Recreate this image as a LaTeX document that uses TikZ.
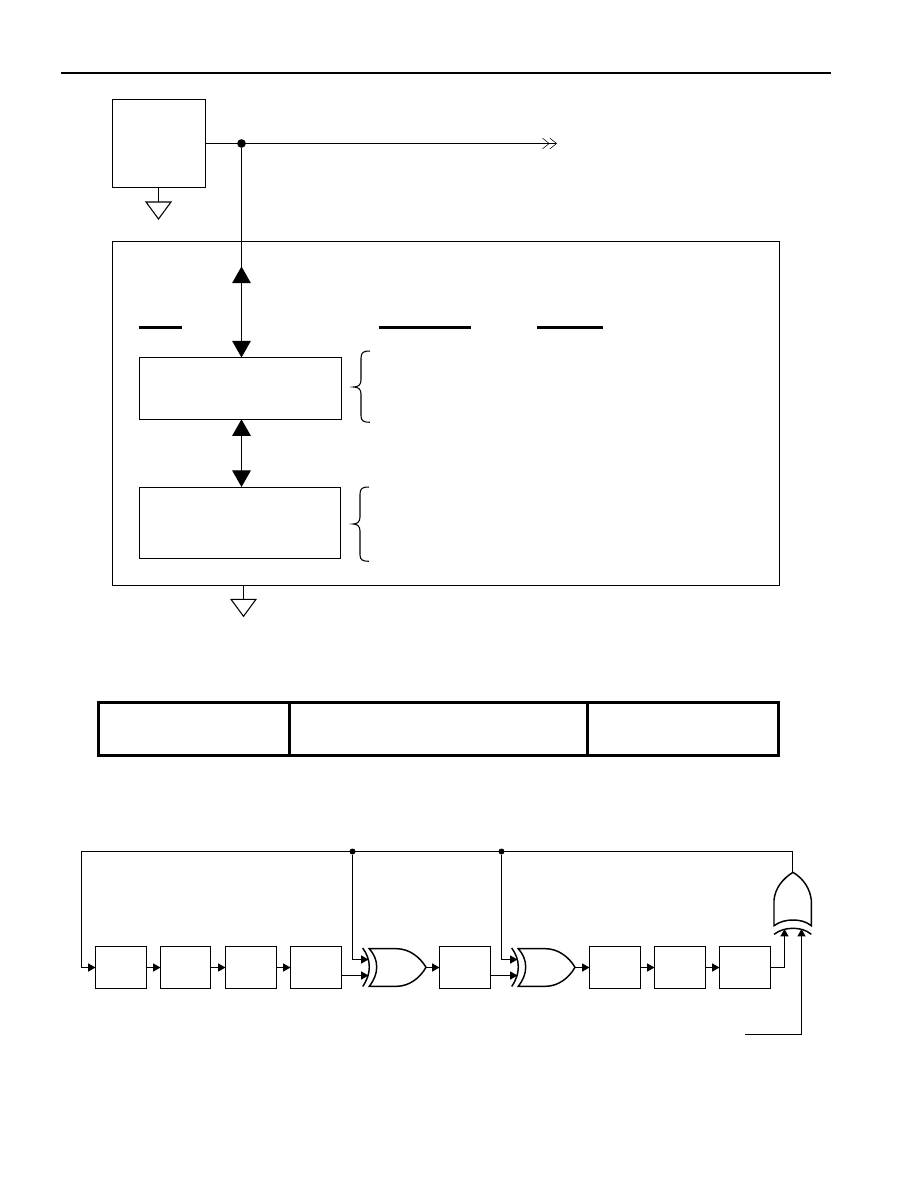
\documentclass[tikz,border=0pt]{standalone}
\usetikzlibrary{arrows.meta,calc}
\tikzset{
  px/.style={x=0.75pt,y=-0.75pt},
  wire/.style={line width=0.8pt,line cap=butt,line join=miter},
  blk/.style={draw,wire,inner sep=0pt,outer sep=0pt,fill=white},
  bigtip/.style={wire,-{Triangle[length=12.5pt,width=14pt,sep=0pt]}},
  bigtips/.style={wire,{Triangle[length=12.5pt,width=14pt]}-{Triangle[length=12.5pt,width=14pt]}},
  smalltip/.style={wire,-{Triangle[length=5.5pt,width=6pt,sep=0pt]}},
  opentip/.style={wire,-{Straight Barb[length=5pt,width=8pt,line width=0.4pt]Straight Barb[length=5pt,width=8pt,line width=0.4pt]}},
  rule/.style={line width=1.6pt},
  tbl/.style={line width=2.25pt},
  gate/.style={line width=1.1pt},
  gnd/.style={wire,line join=miter},
  dotn/.style={circle,fill=black,inner sep=0pt,outer sep=0pt}
}
% name, left, top, right, bottom in pixels
\newcommand{\pxbox}[5]{%
  \node[blk,minimum width={(#4-#2)*0.75pt},minimum height={(#5-#3)*0.75pt}] (#1) at ({(#2+#4)/2},{(#3+#5)/2}) {};}
\begin{document}
\begin{tikzpicture}[px]
\useasboundingbox[fill=white] (0,0) rectangle (918,1188);
% header rule
\coordinate (ruleL) at (61,73); \coordinate (ruleR) at (831,73);
\draw[rule] (ruleL) -- (ruleR);
% top block
\pxbox{src}{112.5}{99.5}{205.5}{187.5}
\pxbox{outer}{112.5}{241.5}{779.5}{585.5}
\pxbox{upper}{139.5}{357.5}{341.5}{419.5}
\pxbox{lower}{139.5}{487.5}{340.5}{558.5}
\node[dotn,minimum size=6.5pt] (junc) at (241.5,143.5) {};
\coordinate (outend) at (557,143.5);
\draw[opentip] (src.east |- junc) -- (outend);
\coordinate (upbase) at (241.5,284);
\coordinate (upapex) at (241.5,266.5);
\coordinate (dnbase) at (241.5,340);
\draw[wire] (junc) -- (junc |- upper.north);
\draw[bigtip] (upbase) -- (upapex);
\draw[bigtip] (dnbase) -- (dnbase |- upper.north);
\draw[bigtips] (241.5,419.3) -- (241.5,487);
% grounds
\coordinate (g1) at (158.5,202);
\draw[wire] (g1 |- src.south) -- (g1);
\draw[gnd] ($(g1)+(-12.5,0)$) -- ($(g1)+(12.5,0)$) -- ($(g1)+(0,17)$) -- cycle;
\coordinate (g2) at (243.5,599.3);
\draw[wire] (g2 |- outer.south) -- (g2);
\draw[gnd] ($(g2)+(-12.5,0)$) -- ($(g2)+(12.5,0)$) -- ($(g2)+(0,17)$) -- cycle;
% underlines
\draw[rule] (139,327.5) -- (182,327.5);
\draw[rule] (379,327.5) -- (471,327.5);
\draw[rule] (537,327.5) -- (603,327.5);
% braces
\draw[wire] (370,351) .. controls (364,351) and (361,352) .. (361,358) -- (361,380)
  .. controls (361,385) and (358,387) .. (353.5,387)
  .. controls (358,387) and (361,389) .. (361,394) -- (361,416)
  .. controls (361,421) and (364,422.3) .. (370,422.3);
\draw[wire] (369,487) .. controls (363,487) and (360,488) .. (360,494) -- (360,517)
  .. controls (360,522) and (357,524) .. (353,524)
  .. controls (357,524) and (360,526) .. (360,531) -- (360,555)
  .. controls (360,560) and (363,561.3) .. (369,561.3);
% frame table
\draw[tbl] (98,702) rectangle (778,755);
\draw[tbl] (289,702) -- (289,755);
\draw[tbl] (587,702) -- (587,755);
% shift register
\pxbox{a}{95.5}{946.5}{146.5}{988.5}
\pxbox{b}{160.5}{946.5}{210.5}{988.5}
\pxbox{c}{225.5}{946.5}{276.5}{988.5}
\pxbox{d}{290.5}{946.5}{341.5}{988.5}
\pxbox{e}{439.5}{946.5}{490.5}{988.5}
\pxbox{f}{589.5}{946.5}{640.5}{988.5}
\pxbox{g}{654.5}{946.5}{705.5}{988.5}
\pxbox{h}{719.5}{946.5}{770.5}{988.5}
\foreach \p/\q in {a/b,b/c,c/d,f/g,g/h}{\draw[smalltip] (\p) -- (\q);}
\node[dotn,minimum size=4.5pt] (j1) at (352.5,851.5) {};
\node[dotn,minimum size=4.5pt] (j2) at (501.5,851.5) {};
\coordinate (fbL) at (81.5,851.5);
\coordinate (fbR) at (792.5,851.5);
\draw[wire] (fbR) -- (fbL) -- (fbL |- a.west);
\draw[smalltip] (fbL |- a.west) -- (a.west);
% XOR gates
\foreach \n/\dx in {xa/0,xb/149}{
  \begin{scope}[shift={(\dx,0)}]
    \coordinate (\n i1) at (368.5,959.5);
    \coordinate (\n i2) at (368.5,975.5);
    \coordinate (\n o) at (426,967.5);
    \draw[gate] (362.7,948) .. controls (367,954) and (369.3,960) .. (369.3,967)
      .. controls (369.3,974) and (367,980) .. (362.7,986.5);
    \draw[gate] (369.3,948.7) .. controls (374,954) and (376.7,960) .. (376.7,967)
      .. controls (376.7,974) and (374,980) .. (369.3,986.3)
      -- (396.7,986.3) .. controls (409,986.3) and (420,978) .. (426,967.3)
      .. controls (420,957) and (409,948.7) .. (396.7,948.7) -- cycle;
  \end{scope}
}
\draw[wire] (j1) -- (j1 |- xai1);
\draw[smalltip] (j1 |- xai1) -- (xai1);
\draw[smalltip] (xai2 -| d.east) -- (xai2);
\draw[smalltip] (xao) -- (e.west |- xao);
\draw[wire] (j2) -- (j2 |- xbi1);
\draw[smalltip] (j2 |- xbi1) -- (xbi1);
\draw[smalltip] (xbi2 -| e.east) -- (xbi2);
\draw[smalltip] (xbo) -- (f.west |- xbo);
% output gate
\coordinate (ya) at (792.5,872.3);
\draw[wire] (fbR) -- (ya);
\draw[gate] (793,872.3) .. controls (782,879) and (775,889) .. (774,900) -- (774,925.7)
  .. controls (780,921.5) and (786,920) .. (793,920)
  .. controls (800,920) and (806,921.5) .. (811.3,925.7) -- (811.3,900)
  .. controls (810,889) and (804,879) .. (793,872.3) -- cycle;
\draw[gate] (774,934.3) .. controls (780,930) and (786,928.3) .. (793,928.3)
  .. controls (800,928.3) and (806,930) .. (811.3,934.3);
\coordinate (yi1) at (784.5,929);
\coordinate (yi2) at (801.5,929);
\coordinate (inL) at (745,1034.5);
\draw[wire] (h.east) -- (yi1 |- h.east);
\draw[smalltip] (yi1 |- h.east) -- (yi1);
\draw[wire] (inL) -- (yi2 |- inL);
\draw[smalltip] (yi2 |- inL) -- (yi2);
\end{tikzpicture}
\end{document}
